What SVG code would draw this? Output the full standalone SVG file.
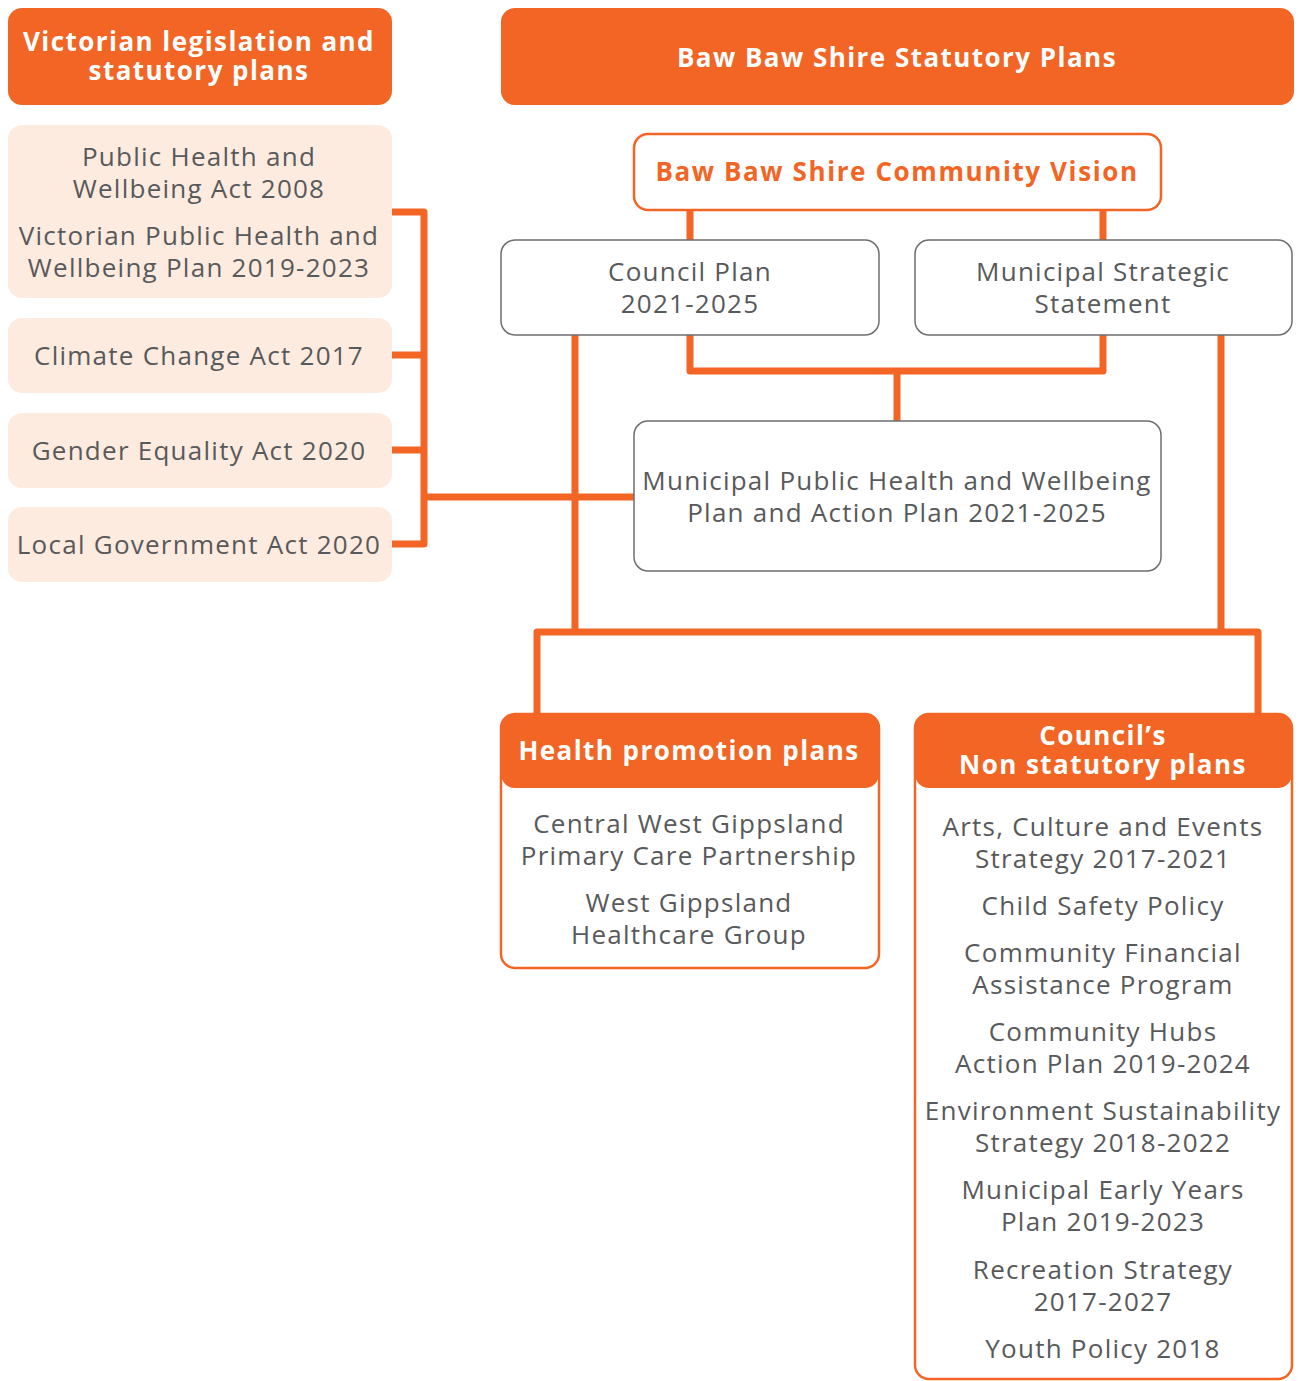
<svg xmlns="http://www.w3.org/2000/svg" width="1298" height="1381" viewBox="0 0 1298 1381">
<style>
.hdr{fill:#F26524}
.lt{fill:#FDEBDF}
.wb{fill:#fff;stroke:#6D6E70;stroke-width:1.5}
.ob{fill:#fff;stroke:#F26524;stroke-width:2.5}
.t{font-family:"Open Sans","Liberation Sans",sans-serif;font-size:26px;letter-spacing:1.25px;fill:#58595B;text-anchor:middle}
.h{font-family:"Open Sans","Liberation Sans",sans-serif;font-size:26px;letter-spacing:1.45px;font-weight:bold;fill:#fff;text-anchor:middle}
.ho{font-family:"Open Sans","Liberation Sans",sans-serif;font-size:26px;letter-spacing:1.6px;font-weight:bold;fill:#F26524;text-anchor:middle}
.c{fill:none;stroke:#F26524;stroke-width:7;stroke-linejoin:round}
</style>
<g id="connectors">
<path class="c" d="M392 212H424V544H392M392 355H424M392 450H424M424 497H634"/>
<path class="c" d="M690 210V240M1103 210V240"/>
<path class="c" d="M690 335V371H1103V335M897 371V421"/>
<path class="c" d="M575 335V632M1221 335V632M537 713V632H1258V713"/>
</g>
<g id="leg-header"><rect class="hdr" x="8" y="8" width="384" height="97" rx="14"/>
<text class="h" x="199" y="51">Victorian legislation and</text><text class="h" x="199" y="80">statutory plans</text></g>
<g id="act-phw"><rect class="lt" x="8" y="125" width="384" height="173" rx="14"/>
<text class="t" x="199" y="166">Public Health and</text><text class="t" x="199" y="198">Wellbeing Act 2008</text>
<text class="t" x="199" y="245">Victorian Public Health and</text><text class="t" x="199" y="277">Wellbeing Plan 2019-2023</text></g>
<g id="act-cc"><rect class="lt" x="8" y="318" width="384" height="75" rx="14"/><text class="t" x="199" y="365">Climate Change Act 2017</text></g>
<g id="act-ge"><rect class="lt" x="8" y="413" width="384" height="75" rx="14"/><text class="t" x="199" y="460">Gender Equality Act 2020</text></g>
<g id="act-lg"><rect class="lt" x="8" y="507" width="384" height="75" rx="14"/><text class="t" x="199" y="554">Local Government Act 2020</text></g>
<g id="stat-header"><rect class="hdr" x="501" y="8" width="793" height="97" rx="14"/><text class="h" x="897" y="67">Baw Baw Shire Statutory Plans</text></g>
<g id="vision"><rect class="ob" x="634" y="134" width="527" height="76" rx="14"/><text class="ho" x="897" y="181">Baw Baw Shire Community Vision</text></g>
<g id="council-plan"><rect class="wb" x="501" y="240" width="378" height="95" rx="14"/><text class="t" x="690" y="281">Council Plan</text><text class="t" x="690" y="313">2021-2025</text></g>
<g id="mss"><rect class="wb" x="915" y="240" width="377" height="95" rx="14"/><text class="t" x="1103" y="281">Municipal Strategic</text><text class="t" x="1103" y="313">Statement</text></g>
<g id="mphwp"><rect class="wb" x="634" y="421" width="527" height="150" rx="14"/><text class="t" x="897" y="490">Municipal Public Health and Wellbeing</text><text class="t" x="897" y="522">Plan and Action Plan 2021-2025</text></g>
<g id="health-promo"><rect class="ob" x="501" y="714" width="378" height="254" rx="14"/>
<path class="hdr" d="M501 728a14 14 0 0 1 14-14H865a14 14 0 0 1 14 14V774a14 14 0 0 1-14 14H515a14 14 0 0 1-14-14Z"/>
<text class="h" x="689" y="760">Health promotion plans</text>
<text class="t" x="689" y="833">Central West Gippsland</text><text class="t" x="689" y="865">Primary Care Partnership</text>
<text class="t" x="689" y="912">West Gippsland</text><text class="t" x="689" y="944">Healthcare Group</text></g>
<g id="non-stat"><rect class="ob" x="915" y="714" width="377" height="665" rx="14"/>
<path class="hdr" d="M915 728a14 14 0 0 1 14-14H1278a14 14 0 0 1 14 14V774a14 14 0 0 1-14 14H929a14 14 0 0 1-14-14Z"/>
<text class="h" x="1103" y="745">Council’s</text><text class="h" x="1103" y="774">Non statutory plans</text>
<text class="t" x="1103" y="836">Arts, Culture and Events</text><text class="t" x="1103" y="868">Strategy 2017-2021</text>
<text class="t" x="1103" y="915">Child Safety Policy</text>
<text class="t" x="1103" y="962">Community Financial</text><text class="t" x="1103" y="994">Assistance Program</text>
<text class="t" x="1103" y="1041">Community Hubs</text><text class="t" x="1103" y="1073">Action Plan 2019-2024</text>
<text class="t" x="1103" y="1120">Environment Sustainability</text><text class="t" x="1103" y="1152">Strategy 2018-2022</text>
<text class="t" x="1103" y="1199">Municipal Early Years</text><text class="t" x="1103" y="1231">Plan 2019-2023</text>
<text class="t" x="1103" y="1279">Recreation Strategy</text><text class="t" x="1103" y="1311">2017-2027</text>
<text class="t" x="1103" y="1358">Youth Policy 2018</text></g>
</svg>
